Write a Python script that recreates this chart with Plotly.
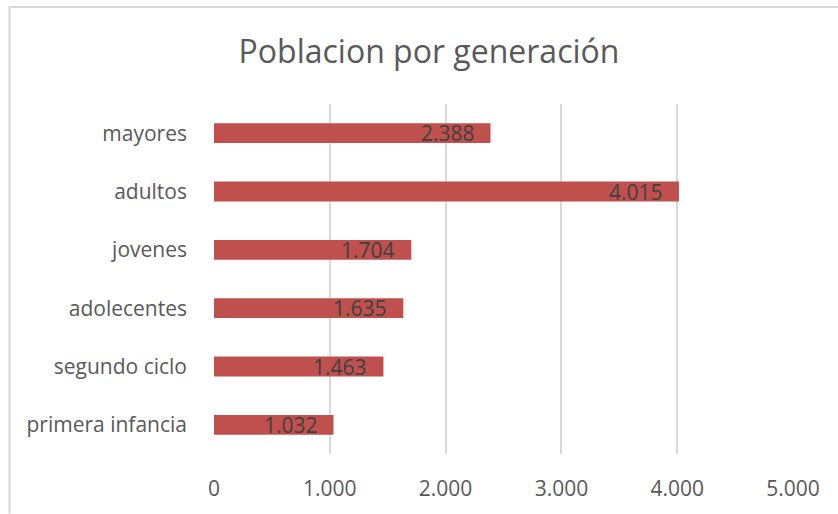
import plotly.graph_objects as go

categories = ["primera infancia", "segundo ciclo", "adolecentes", "jovenes", "adultos", "mayores"]
values = [1032, 1463, 1635, 1704, 4015, 2388]
tick_vals = [0, 1000, 2000, 3000, 4000, 5000]
title_text = "Poblacion por generación"

W, H = 838, 514
L, R, T, B = 214, 45, 104, 58
pw, ph = W - L - R, H - T - B

def fmt(v):
    return f"{v:,}".replace(",", ".")

FONT = "Open Sans"

fig = go.Figure(go.Bar(
    y=categories, x=values, orientation="h",
    marker=dict(color="#C0504D", line=dict(width=0)),
    width=0.34, hoverinfo="skip",
))

annotations = []
for c, v in zip(categories, values):
    annotations.append(dict(x=v, y=c, xref="x", yref="y", text=fmt(v), showarrow=False,
                            xanchor="right", yanchor="middle", xshift=-14, yshift=0,
                            font=dict(family=FONT, size=21, color="#404040")))

def px_to_paper_x(p):
    return (p - L) / pw

def px_to_paper_y(p):
    return 1 - (p - T) / ph

shapes = [
    dict(type="line", xref="paper", yref="paper",
         x0=px_to_paper_x(9), x1=px_to_paper_x(W + 2), y0=px_to_paper_y(6.5), y1=px_to_paper_y(6.5),
         line=dict(color="#D9D9D9", width=2)),
    dict(type="line", xref="paper", yref="paper",
         x0=px_to_paper_x(9.5), x1=px_to_paper_x(9.5), y0=px_to_paper_y(6), y1=px_to_paper_y(H + 2),
         line=dict(color="#D9D9D9", width=2)),
]

fig.update_layout(
    width=W, height=H,
    margin=dict(l=L, r=R, t=T, b=B),
    paper_bgcolor="white", plot_bgcolor="white",
    title=dict(text=title_text, x=429 / W, xanchor="center", y=1 - 51.5 / H, yanchor="middle",
               font=dict(family=FONT, size=32, color="#595959")),
    xaxis=dict(range=[0, 5000], tickvals=tick_vals, ticktext=[fmt(t) for t in tick_vals],
               showgrid=True, gridcolor="#D9D9D9", gridwidth=1.5, zeroline=False,
               showline=False, ticks="", ticklabelstandoff=20,
               tickfont=dict(family=FONT, size=21, color="#595959"),
               fixedrange=True),
    yaxis=dict(showgrid=False, zeroline=False, showline=False, ticks="", ticklabelstandoff=26,
               tickfont=dict(family=FONT, size=21, color="#595959"), fixedrange=True),
    showlegend=False,
    annotations=annotations,
    shapes=shapes,
    bargap=0.66,
)

fig.write_html("out.html", config={"displayModeBar": False})
